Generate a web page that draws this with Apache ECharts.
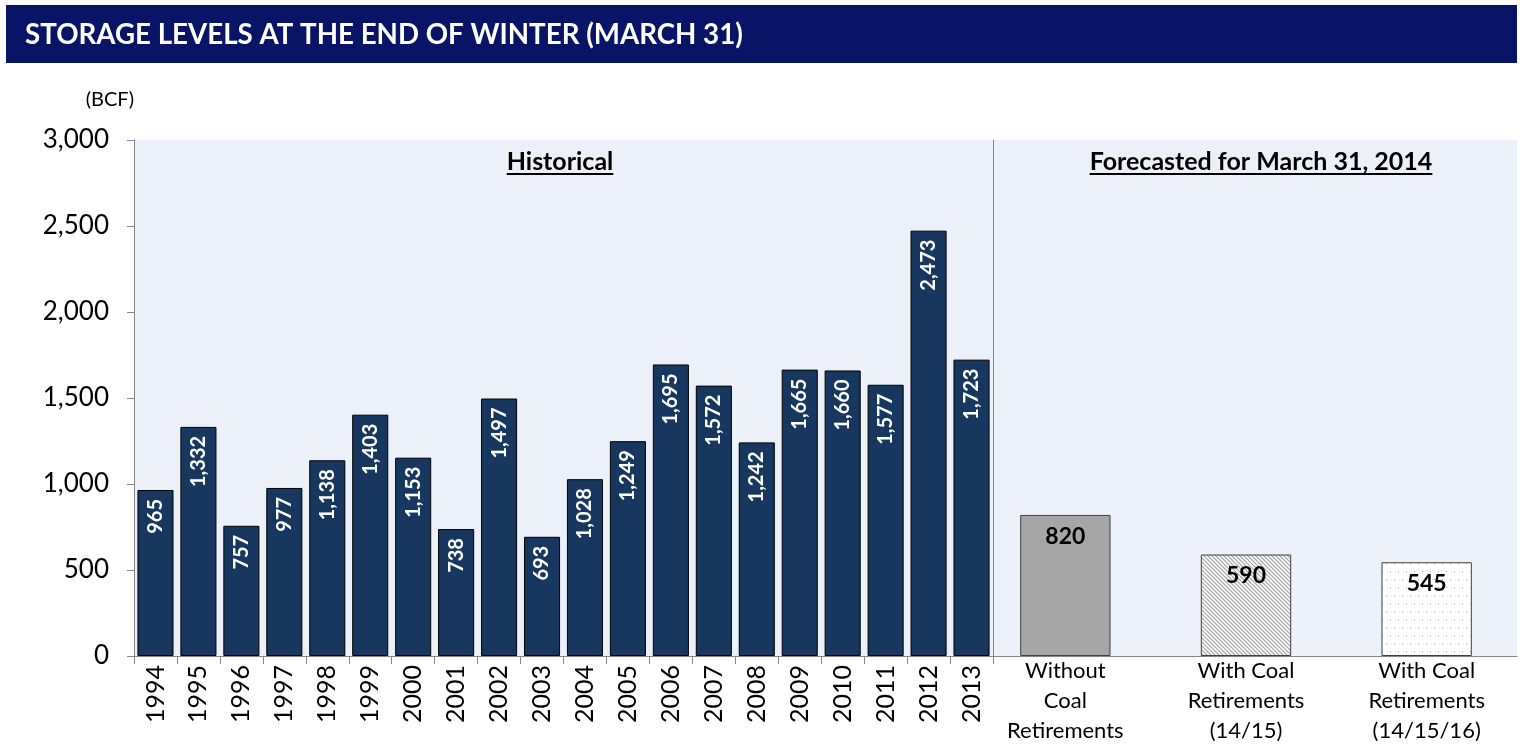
<!DOCTYPE html>
<html>
<head>
<meta charset="utf-8">
<script src="https://cdn.jsdelivr.net/npm/echarts@6/dist/echarts.min.js"></script>
<style>
html, body { margin: 0; padding: 0; background: #fff; }
#chart { width: 1520px; height: 746px; }
</style>
</head>
<body>
<div id="chart"></div>
<script>
var years = ['1994','1995','1996','1997','1998','1999','2000','2001','2002','2003',
             '2004','2005','2006','2007','2008','2009','2010','2011','2012','2013'];
var storage = [965,1332,757,977,1138,1403,1153,738,1497,693,
               1028,1249,1695,1572,1242,1665,1660,1577,2473,1723];
var forecastCats = ['Without\nCoal\nRetirements', 'With Coal\nRetirements\n(14/15)', 'With Coal\nRetirements\n(14/15/16)'];
var forecastVals = [820, 590, 545];

var FONT = 'Lato, "Open Sans", sans-serif';
var AXIS = '#868686';
var PLOT_BG = '#ecf0f8';

// fill patterns for the forecast bars
function stripes() {
    var c = document.createElement('canvas');
    c.width = 4; c.height = 4;
    var g = c.getContext('2d');
    g.fillStyle = '#fff'; g.fillRect(0, 0, 4, 4);
    g.strokeStyle = '#a4a4a4'; g.lineWidth = 1.2;
    g.beginPath();
    g.moveTo(-1, -1); g.lineTo(5, 5);
    g.moveTo(-1, 3); g.lineTo(1, 5);
    g.moveTo(3, -1); g.lineTo(5, 1);
    g.stroke();
    return c;
}
function dots() {
    var c = document.createElement('canvas');
    c.width = 16; c.height = 16;
    var g = c.getContext('2d');
    g.fillStyle = '#fff'; g.fillRect(0, 0, 16, 16);
    g.fillStyle = '#a8a8a8';
    [[2,3],[10,3],[6,11],[14,11]].forEach(function(p){ g.fillRect(p[0], p[1], 1, 1); });
    return c;
}
function textWidth(txt, font) {
    var g = document.createElement('canvas').getContext('2d');
    g.font = font;
    return g.measureText(txt).width;
}

var forecastStyles = [
    { color: '#a6a6a6', borderColor: '#404040', borderWidth: 1 },
    { color: { image: stripes(), repeat: 'repeat' }, borderColor: '#404040', borderWidth: 1 },
    { color: { image: dots(), repeat: 'repeat' }, borderColor: '#404040', borderWidth: 1 }
];

var chart = echarts.init(document.getElementById('chart'));

var histTitle = 'Historical', foreTitle = 'Forecasted for March 31, 2014';
var subFont = 'bold 25px ' + FONT;
var hw = textWidth(histTitle, subFont), fw = textWidth(foreTitle, subFont);
var hx = 560, fx = 1261, subY = 162;

var option = {
    animation: false,
    backgroundColor: '#fff',
    grid: [
        { left: 134, top: 140, width: 859, height: 516, show: true, backgroundColor: PLOT_BG, borderWidth: 0,
          outerBoundsMode: 'none' },
        { left: 975, top: 140, width: 542, height: 516, show: true, backgroundColor: PLOT_BG, borderWidth: 0,
          outerBoundsMode: 'none' }
    ],
    graphic: [
        { type: 'rect', z: 0, shape: { x: 6, y: 5, width: 1511, height: 58 }, style: { fill: '#0a1466' } },
        { type: 'text', z: 10, style: { x: 25, y: 35, text: 'STORAGE LEVELS AT THE END OF WINTER (MARCH 31)',
            font: 'bold 27.7px ' + FONT, fill: '#fff', verticalAlign: 'middle' } },
        { type: 'text', z: 10, style: { x: hx, y: subY, text: histTitle, font: subFont, fill: '#000',
            align: 'center', verticalAlign: 'middle' } },
        { type: 'line', z: 10, shape: { x1: hx - hw / 2, y1: subY + 12, x2: hx + hw / 2, y2: subY + 12 },
            style: { stroke: '#000', lineWidth: 2 } },
        { type: 'text', z: 10, style: { x: fx, y: subY, text: foreTitle, font: subFont, fill: '#000',
            align: 'center', verticalAlign: 'middle' } },
        { type: 'line', z: 10, shape: { x1: fx - fw / 2, y1: subY + 12, x2: fx + fw / 2, y2: subY + 12 },
            style: { stroke: '#000', lineWidth: 2 } }
    ],
    xAxis: [
        {
            type: 'category', gridIndex: 0, data: years,
            axisLine: { lineStyle: { color: AXIS, width: 1 } },
            axisTick: { show: true, length: 8, lineStyle: { color: AXIS } },
            axisLabel: { rotate: 90, margin: 9, fontSize: 25, color: '#000', fontFamily: FONT }
        },
        {
            type: 'category', gridIndex: 1, data: forecastCats,
            axisLine: { lineStyle: { color: AXIS, width: 1 } },
            axisTick: { show: false },
            axisLabel: { margin: 0, fontSize: 22, lineHeight: 30, color: '#000', fontFamily: FONT, interval: 0 }
        }
    ],
    yAxis: [
        {
            type: 'value', gridIndex: 0, min: 0, max: 3000, interval: 500,
            name: '(BCF)', nameLocation: 'end', nameGap: 40,
            nameTextStyle: { fontSize: 20, color: '#000', fontFamily: FONT, align: 'right', verticalAlign: 'middle' },
            axisLine: { show: true, lineStyle: { color: AXIS } },
            axisTick: { show: true, length: 7, lineStyle: { color: AXIS } },
            splitLine: { show: false },
            axisLabel: { margin: 25, fontSize: 26, color: '#000', fontFamily: FONT,
                formatter: function(v) { return echarts.format.addCommas(v); } }
        },
        {
            // divider between historical and forecast panels
            type: 'value', gridIndex: 0, position: 'right', min: 0, max: 3000, interval: 500,
            axisLine: { show: true, lineStyle: { color: AXIS } },
            axisTick: { show: false }, axisLabel: { show: false }, splitLine: { show: false }
        },
        {
            type: 'value', gridIndex: 1, min: 0, max: 3000, interval: 500, show: false,
            splitLine: { show: false }
        }
    ],
    series: [
        {
            type: 'bar', xAxisIndex: 0, yAxisIndex: 0, data: storage,
            barCategoryGap: '16%',
            itemStyle: { color: '#17375e', borderColor: '#000', borderWidth: 1 },
            label: {
                show: true, position: 'insideTop', rotate: 90, align: 'right', verticalAlign: 'middle',
                distance: 9, color: '#fff', fontWeight: 'bold', fontSize: 20, fontFamily: FONT,
                formatter: function(p) { return echarts.format.addCommas(p.value); }
            }
        },
        {
            type: 'bar', xAxisIndex: 1, yAxisIndex: 2,
            data: forecastVals.map(function(v, i) { return { value: v, itemStyle: forecastStyles[i] }; }),
            barWidth: '50%',
            label: {
                show: true, position: 'insideTop', distance: 10, color: '#000',
                fontWeight: 'bold', fontSize: 23, fontFamily: FONT
            }
        }
    ]
};

chart.setOption(option);
</script>
</body>
</html>
